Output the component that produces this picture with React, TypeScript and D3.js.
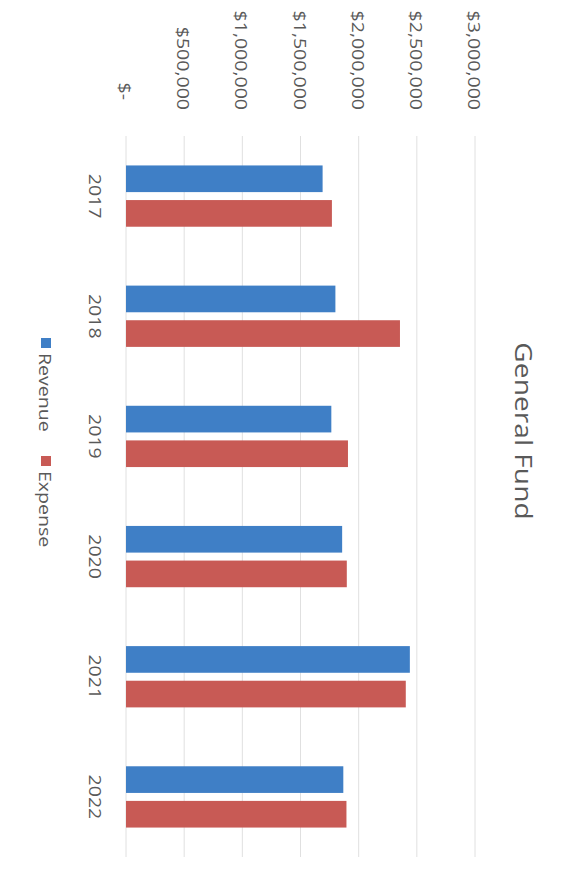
import React from "react";
import * as d3 from "d3";

// General Fund revenue vs. expense by fiscal year
const years = ["2017", "2018", "2019", "2020", "2021", "2022"];
const seriesNames = ["Revenue", "Expense"];
const revenue = [1690000, 1800000, 1765000, 1858000, 2440000, 1868000];
const expense = [1770000, 2355000, 1908000, 1898000, 2405000, 1895000];
const tickValues = [0, 500000, 1000000, 1500000, 2000000, 2500000, 3000000];
const tickLabels = ["$-", "$500,000", "$1,000,000", "$1,500,000", "$2,000,000", "$2,500,000", "$3,000,000"];
const seriesColors = ["#3f7fc6", "#c85a55"];

// The chart is laid out as an ordinary column chart (W x H) and then turned
// a quarter turn clockwise onto the page.
const W = 886;
const H = 565;
const TEXT = "#595959";
const FONT = "'Open Sans', 'Liberation Sans', sans-serif";
const STRETCH = 1.15;

export default function App() {
  const x = d3.scaleBand<string>().domain(years).range([136, 857]).paddingInner(0.49).paddingOuter(0.245);
  const inner = d3.scaleBand<string>().domain(seriesNames).range([0, x.bandwidth()]).paddingInner(0.23);
  const y = d3.scaleLinear().domain([0, 3000000]).range([439, 90]);
  const values = [revenue, expense];

  return (
    <svg
      width={H}
      height={W}
      style={{ position: "absolute", left: 0, top: 0, background: "#ffffff" }}
    >
      <g transform={`translate(${H},0) rotate(90)`} fontFamily={FONT}>
        {/* gridlines */}
        {tickValues.map((t) => (
          <line
            key={`g${t}`}
            x1={136}
            x2={857}
            y1={y(t)}
            y2={y(t)}
            stroke="#e0e0e0"
            strokeWidth={1}
          />
        ))}
        {/* value axis labels */}
        {tickValues.map((t, i) => (
          <g key={`t${t}`} transform={`translate(${110 + (t === 0 ? -10 : 0)},${y(t)}) scale(${STRETCH},1)`}>
            <text textAnchor="end" dominantBaseline="central" fontSize={17} fill={TEXT}>
              {tickLabels[i]}
            </text>
          </g>
        ))}
        {/* bars */}
        {years.map((yr, i) => (
          <g key={yr} transform={`translate(${x(yr)},0)`}>
            {seriesNames.map((s, j) => (
              <rect
                key={s}
                x={inner(s)}
                width={inner.bandwidth()}
                y={y(values[j][i])}
                height={y(0) - y(values[j][i])}
                fill={seriesColors[j]}
              />
            ))}
          </g>
        ))}
        {/* category labels */}
        {years.map((yr) => (
          <g key={`c${yr}`} transform={`translate(${(x(yr) as number) + x.bandwidth() / 2},476) scale(${STRETCH},1)`}>
            <text textAnchor="middle" fontSize={17} fill={TEXT}>
              {yr}
            </text>
          </g>
        ))}
        {/* title */}
        <g transform={`translate(431,50) scale(${STRETCH},1)`}>
          <text textAnchor="middle" fontSize={24.5} fill={TEXT}>
            General Fund
          </text>
        </g>
        {/* legend */}
        {seriesNames.map((s, j) => {
          const lx = j === 0 ? 338 : 456;
          return (
            <g key={`l${s}`}>
              <rect x={lx} y={514} width={10} height={10} fill={seriesColors[j]} />
              <g transform={`translate(${lx + 15},519) scale(${STRETCH},1)`}>
                <text dominantBaseline="central" fontSize={17} fill={TEXT}>
                  {s}
                </text>
              </g>
            </g>
          );
        })}
      </g>
    </svg>
  );
}
